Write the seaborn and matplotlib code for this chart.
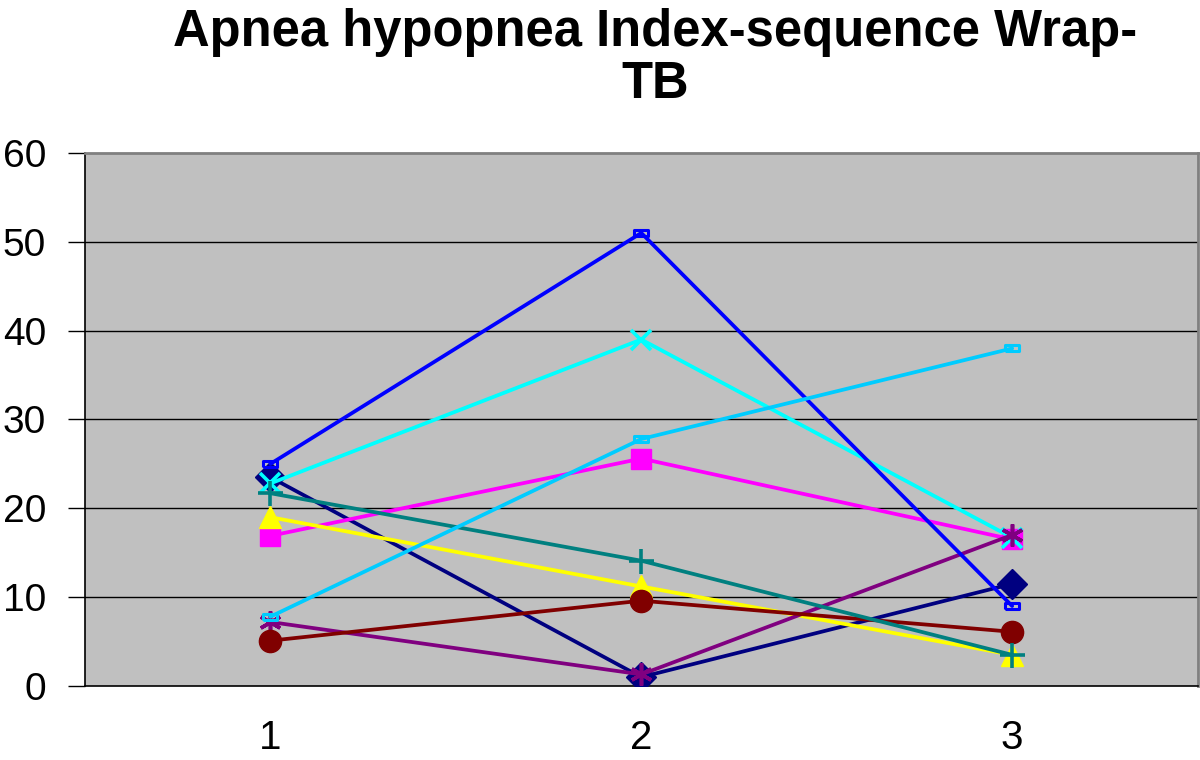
import matplotlib
matplotlib.use("Agg")
import matplotlib.pyplot as plt
import seaborn as sns
import pandas as pd

sns.set_theme(style="white")
plt.rcParams['font.family'] = ['Liberation Sans', 'DejaVu Sans']
plt.rcParams['text.color'] = 'black'
plt.rcParams['xtick.color'] = 'black'
plt.rcParams['ytick.color'] = 'black'

categories = ["1", "2", "3"]
s1 = [23.5, 1.0, 11.5]    # navy diamond
s2 = [16.9, 25.6, 16.5]   # magenta square
s3 = [19.0, 11.2, 3.5]    # yellow triangle
s4 = [22.8, 39.0, 16.7]   # cyan x
s5 = [7.2, 1.3, 17.0]     # purple asterisk
s6 = [5.1, 9.6, 6.1]      # maroon circle
s7 = [21.7, 14.1, 3.5]    # teal plus
s8 = [25.0, 51.0, 9.0]    # blue dash
s9 = [7.8, 27.8, 38.0]    # sky blue dash

series = [s1, s2, s3, s4, s5, s6, s7, s8, s9]
colors = ["#000080", "#FF00FF", "#FFFF00", "#00FFFF", "#800080",
          "#800000", "#008080", "#0000FF", "#00CCFF"]
dash = [(-1, -0.45), (1, -0.45), (1, 0.45), (-1, 0.45), (-1, -0.45)]
markers = ["D", "s", "^", "x", (6, 2, 0), "o", "+", dash, dash]
msizes = [15, 15, 16, 15, 16, 16, 18, 10, 10]

fig = plt.figure(figsize=(12, 7.6), dpi=100)
ax = fig.add_axes([0.0708, 0.0974, 0.9272, 0.7013])
ax.set_facecolor("#C0C0C0")

xpos = [1, 2, 3]
for i, (vals, c, m, ms) in enumerate(zip(series, colors, markers, msizes)):
    df = pd.DataFrame({"x": xpos, "y": vals})
    mk = dict(marker=m, markersize=ms, color=c, linewidth=2.7, zorder=3 + i)
    if m is dash:
        mk.update(markerfacecolor="none", markeredgecolor=c, markeredgewidth=2.2)
    elif m in ("x", "+") or isinstance(m, tuple):
        mk.update(markeredgewidth=2.6, markeredgecolor=c)
    else:
        mk.update(markeredgecolor=c, markerfacecolor=c, markeredgewidth=1)
    sns.lineplot(data=df, x="x", y="y", ax=ax, **mk)

ax.set_xlim(0.5, 3.5)
ax.set_ylim(0, 60)
ax.set_yticks([0, 10, 20, 30, 40, 50, 60])
ax.set_xticks(xpos)
ax.set_xticklabels(categories)
ax.set_xticks([0.5, 1.5, 2.5, 3.5], minor=True)
ax.tick_params(axis="x", which="major", length=0, labelsize=29, pad=24, colors="black")
ax.tick_params(axis="x", which="minor", length=12, width=1, direction="out", colors="black")
ax.tick_params(axis="y", which="major", length=12, width=1, direction="out",
               labelsize=28, pad=16, left=True, colors="black")
for y in [10, 20, 30, 40, 50]:
    ax.axhline(y, color="black", linewidth=1, zorder=1)
ax.set_xlabel("")
ax.set_ylabel("")

for side in ["top", "right"]:
    ax.spines[side].set_color("#808080")
    ax.spines[side].set_linewidth(2)
for side in ["left", "bottom"]:
    ax.spines[side].set_color("black")
    ax.spines[side].set_linewidth(1.2)

fig.text(0.546, 0.99, "Apnea hypopnea Index-sequence Wrap-\nTB", ha="center", va="top",
         fontsize=36.5, fontweight="bold", linespacing=1.1, color="black")

fig.savefig("out.png", dpi=100)
